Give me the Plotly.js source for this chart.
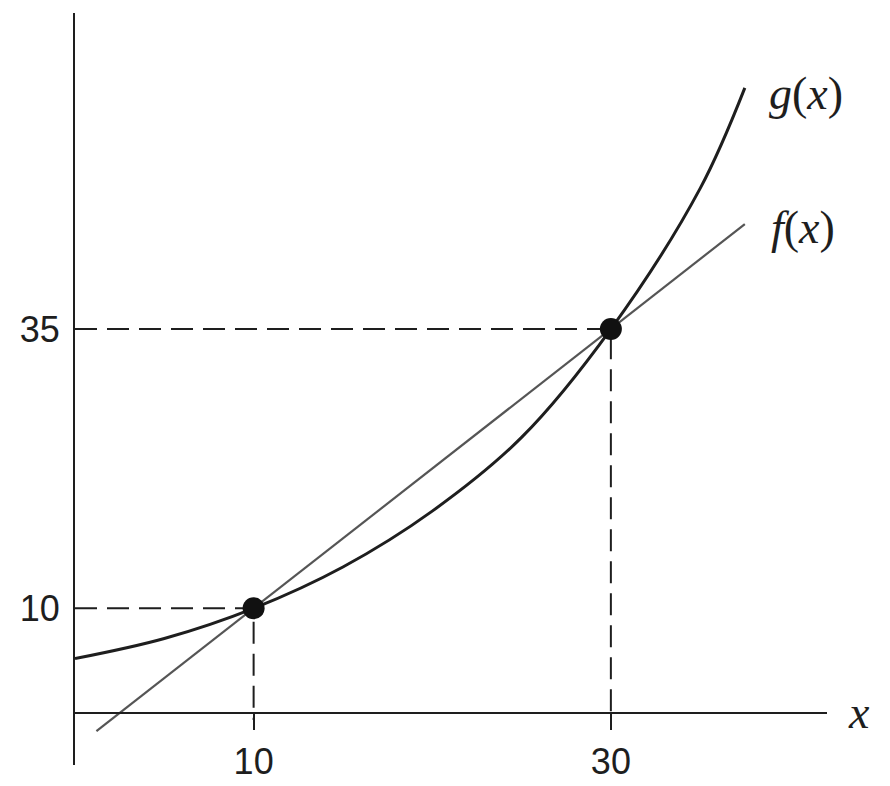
<!DOCTYPE html>
<html>
<head>
<meta charset="utf-8">
<script src="https://cdn.plot.ly/plotly-3.0.1.min.js"></script>
<style>
  html, body { margin: 0; padding: 0; background: #fff; }
  #chart { width: 890px; height: 786px; }
</style>
</head>
<body>
<div id="chart"></div>
<script>
// values
const gX = [0, 5, 10, 15, 20, 25, 30, 35, 37.5];
const gY = [5.5, 7.3, 10, 13.7, 18.7, 25.3, 35, 47.6, 56.6];
const fX = [1.2, 10, 30, 37.5];
const fY = [-1, 10, 35, 44.4];
const crossX = [10, 30];
const crossY = [10, 35];
const xTicks = [10, 30];
const yTicks = [10, 35];

const X_RANGE = [0, 42.1];
const Y_RANGE = [-4.03, 63.3];
const X_AXIS_AT = 0.65; // the horizontal axis sits slightly above y = 0 in the drawing

const INK = "#1e1e1e";
const tickFont = {
	family: "Liberation Sans Narrow, Liberation Sans, Arial, sans-serif",
	size: 36,
	color: INK,
};
const mathFont = {
	family: "Liberation Serif, DejaVu Serif, serif",
	size: 46,
	color: INK,
};

const traces = [];

// dashed guides from the y axis to each crossing and down to the x axis
crossX.forEach((cx, i) => {
	traces.push({
		x: [0, cx, cx],
		y: [crossY[i], crossY[i], 0],
		type: "scatter",
		mode: "lines",
		line: { color: INK, width: 2, dash: "22px,10px" },
	});
});

traces.push({
	x: fX,
	y: fY,
	type: "scatter",
	mode: "lines",
	line: { color: "#555", width: 2.2 },
});

traces.push({
	x: gX,
	y: gY,
	type: "scatter",
	mode: "lines",
	line: { color: INK, width: 3, shape: "spline", smoothing: 1 },
});

traces.push({
	x: crossX,
	y: crossY,
	type: "scatter",
	mode: "markers",
	marker: { size: 22, color: "#111" },
});

const axisPos = (X_AXIS_AT - Y_RANGE[0]) / (Y_RANGE[1] - Y_RANGE[0]);

const layout = {
	width: 890,
	height: 786,
	margin: { l: 75, r: 63, t: 13, b: 21 },
	paper_bgcolor: "#fff",
	plot_bgcolor: "#fff",
	showlegend: false,
	hovermode: false,
	xaxis: {
		range: X_RANGE,
		anchor: "free",
		position: axisPos,
		showline: true,
		linecolor: INK,
		linewidth: 2,
		showgrid: false,
		zeroline: false,
		ticks: "outside",
		ticklen: 16,
		tickwidth: 2,
		tickcolor: INK,
		tickvals: xTicks,
		ticktext: xTicks.map(String),
		tickfont: tickFont,
		ticklabelstandoff: 1,
	},
	yaxis: {
		range: Y_RANGE,
		showline: true,
		linecolor: INK,
		linewidth: 2,
		showgrid: false,
		zeroline: false,
		ticks: "",
		tickvals: yTicks,
		ticktext: yTicks.map(String),
		tickfont: tickFont,
		ticklabelstandoff: 6,
	},
	annotations: [
		{
			x: gX[gX.length - 1],
			y: gY[gY.length - 1],
			xref: "x",
			yref: "y",
			text: "<i>g</i>(<i>x</i>)",
			showarrow: false,
			xanchor: "left",
			yanchor: "middle",
			xshift: 22,
			yshift: -6,
			font: mathFont,
		},
		{
			x: fX[fX.length - 1],
			y: fY[fY.length - 1],
			xref: "x",
			yref: "y",
			text: "<i>f</i>(<i>x</i>)",
			showarrow: false,
			xanchor: "left",
			yanchor: "middle",
			xshift: 24,
			yshift: -3,
			font: mathFont,
		},
		{
			x: 1.025,
			y: axisPos,
			xref: "paper",
			yref: "paper",
			text: "<i>x</i>",
			showarrow: false,
			xanchor: "left",
			yanchor: "middle",
			font: mathFont,
		},
	],
};

Plotly.newPlot("chart", traces, layout, { staticPlot: true, displayModeBar: false });
</script>
</body>
</html>
